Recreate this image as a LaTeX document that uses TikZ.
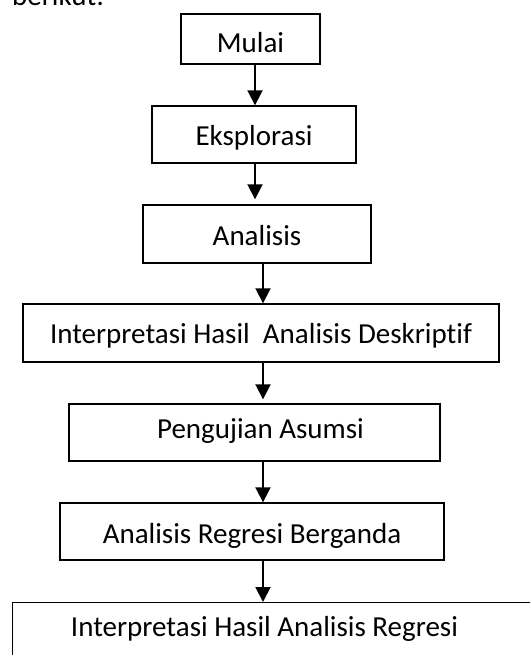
\documentclass[tikz,border=0pt]{standalone}
\usepackage{fontspec}
\setmainfont[Ligatures=NoCommon]{Carlito}
\usetikzlibrary{arrows.meta,calc}
\begin{document}
\begin{tikzpicture}[x=1pt,y=-1pt,
  font=\fontsize{29}{35}\selectfont,
  stepbox/.style={draw=black, line width=1.4pt, inner sep=0pt, text height=18.7pt, text depth=0pt},
  arr/.style={line width=1.9pt, -{Triangle[width=15pt,length=15pt]}}]
\useasboundingbox (0,0) rectangle (530,655);
\clip (0,0) rectangle (530,655);
\node[anchor=base west, inner sep=0pt] (intro) at (12,6) {berikut:};
\node[stepbox, minimum width=139pt, minimum height=50pt, text height=26.7pt] (mulai) at (250.5,39) {Mulai};
\node[stepbox, minimum width=204pt, minimum height=57pt, text height=21.7pt] (eksp) at (254,134.5) {Eksplorasi};
\node[stepbox, minimum width=228pt, minimum height=58pt, text height=22.7pt] (anal) at (257,234) {Analisis};
\node[stepbox, minimum width=476pt, minimum height=58pt, text height=20.7pt] (desk) at (261,333) {Interpretasi Hasil~~Analisis Deskriptif};
\node[stepbox, minimum width=371pt, minimum height=57pt, text depth=7pt] (asumsi) at (254.5,432.5) {\hspace*{12pt}Pengujian Asumsi};
\node[stepbox, minimum width=384pt, minimum height=57pt, text height=23.7pt] (regresi) at (252,531.5) {Analisis Regresi Berganda};
\node[stepbox, anchor=north west, minimum width=560pt, minimum height=80pt] (akhir) at (12,602) {};
\node[inner sep=0pt, text height=18.7pt, text depth=0pt] (akhirtxt) at (264.5,627) {Interpretasi Hasil Analisis Regresi};
\coordinate (c1) at (255,0);
\coordinate (c2) at (263,0);
\draw[arr] (mulai.south -| c1) -- (eksp.north -| c1);
\draw[arr, shorten >=5pt] (eksp.south -| c1) -- (anal.north -| c1);
\draw[arr] (anal.south -| c2) -- (desk.north -| c2);
\draw[arr, shorten >=4pt] (desk.south -| c2) -- (asumsi.north -| c2);
\draw[arr] (asumsi.south -| c2) -- (regresi.north -| c2);
\draw[arr] (regresi.south -| c2) -- (akhir.north -| c2);
\end{tikzpicture}
\end{document}
